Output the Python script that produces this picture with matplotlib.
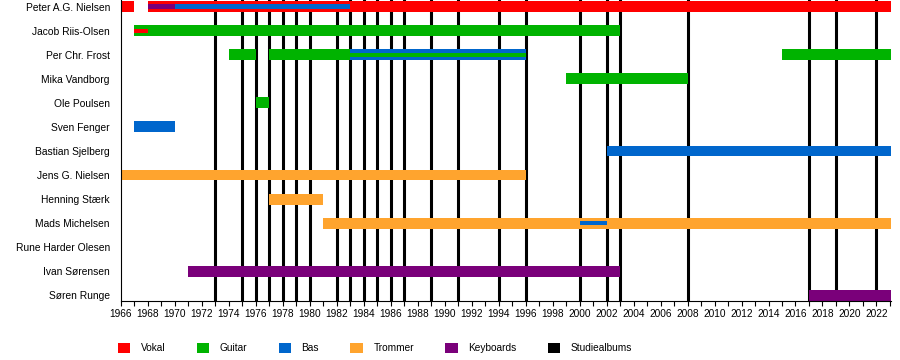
import matplotlib
matplotlib.use("Agg")
import matplotlib.pyplot as plt
from matplotlib.patches import Patch

plt.rcParams['font.family'] = ['Liberation Sans', 'DejaVu Sans']

END = 2023.05
START = 1966

members = ["Peter A.G. Nielsen", "Jacob Riis-Olsen", "Per Chr. Frost", "Mika Vandborg",
           "Ole Poulsen", "Sven Fenger", "Bastian Sjelberg", "Jens G. Nielsen",
           "Henning Stærk", "Mads Michelsen", "Rune Harder Olesen", "Ivan Sørensen",
           "Søren Runge"]

roles = ["Vokal", "Guitar", "Bas", "Trommer", "Keyboards"]
role_colors = {"Vokal": "#FF0000", "Guitar": "#00B300", "Bas": "#0066CC",
               "Trommer": "#FFA42E", "Keyboards": "#7A007A"}
album_label = "Studiealbums"

# main bars: (member, start, end, role)
main_spans = [
    ("Peter A.G. Nielsen", 1966, 1967, "Vokal"),
    ("Peter A.G. Nielsen", 1968, END, "Vokal"),
    ("Jacob Riis-Olsen", 1967, 2003, "Guitar"),
    ("Per Chr. Frost", 1974, 1976, "Guitar"),
    ("Per Chr. Frost", 1977, 1983, "Guitar"),
    ("Per Chr. Frost", 1983, 1996, "Bas"),
    ("Per Chr. Frost", 2015, END, "Guitar"),
    ("Mika Vandborg", 1999, 2008, "Guitar"),
    ("Ole Poulsen", 1976, 1977, "Guitar"),
    ("Sven Fenger", 1967, 1970, "Bas"),
    ("Bastian Sjelberg", 2002, END, "Bas"),
    ("Jens G. Nielsen", 1966, 1996, "Trommer"),
    ("Henning Stærk", 1977, 1981, "Trommer"),
    ("Mads Michelsen", 1981, END, "Trommer"),
    ("Ivan Sørensen", 1971, 2003, "Keyboards"),
    ("Søren Runge", 2017, END, "Keyboards"),
]

# secondary (thin) bars
thin_spans = [
    ("Peter A.G. Nielsen", 1968, 1970, "Keyboards"),
    ("Peter A.G. Nielsen", 1970, 1983, "Bas"),
    ("Jacob Riis-Olsen", 1967, 1968, "Vokal"),
    ("Per Chr. Frost", 1983, 1996, "Guitar"),
    ("Mads Michelsen", 2000, 2002, "Bas"),
]

album_years = [1973, 1975, 1976, 1977, 1978, 1979, 1980, 1982, 1983, 1984, 1985,
               1986, 1987, 1989, 1991, 1994, 1996, 2000, 2002, 2003, 2008, 2017,
               2019, 2022]

year_ticks = list(range(1966, 2023, 2))
minor_ticks = list(range(1966, 2024))

W, H = 900, 360
fig = plt.figure(figsize=(W / 100, H / 100), dpi=100)
left_px, right_px = 121, 890.6
top_px, bottom_px = 0, 301
ax = fig.add_axes([left_px / W, 1 - bottom_px / H, (right_px - left_px) / W,
                   (bottom_px - top_px) / H])

idx = {m: i for i, m in enumerate(members)}

for y in album_years:
    ax.axvline(y, color="black", lw=2.2, zorder=1)

for m, s, e, r in main_spans:
    ax.barh(idx[m], e - s, left=s, height=0.45, color=role_colors[r], zorder=2,
            linewidth=0)
for m, s, e, r in thin_spans:
    ax.barh(idx[m], e - s, left=s, height=0.17, color=role_colors[r], zorder=3,
            linewidth=0)

ax.set_xlim(START, END)
ax.set_ylim(12.23, -0.27)
ax.set_yticks(range(len(members)))
ax.set_yticklabels(members, fontsize=7.4)
ax.tick_params(axis="y", length=0, pad=8)
ax.set_xticks(year_ticks)
ax.set_xticklabels([str(y) for y in year_ticks], fontsize=7.3)
ax.set_xticks(minor_ticks, minor=True)
ax.tick_params(axis="x", which="both", length=3.6, width=0.8, direction="out", pad=2.5)
for sp in ["top", "right"]:
    ax.spines[sp].set_visible(False)
for sp in ["left", "bottom"]:
    ax.spines[sp].set_linewidth(0.8)

handles = [Patch(facecolor=role_colors[r], edgecolor="none", label=r) for r in roles]
handles.append(Patch(facecolor="black", edgecolor="none", label=album_label))
fig.legend(handles=handles, loc="center left", bbox_to_anchor=(118 / W, 1 - 348 / H),
           ncol=6, frameon=False, fontsize=7.3, handlelength=1.2, handleheight=1.2,
           handletextpad=1.05, columnspacing=3.1, borderpad=0, borderaxespad=0)

fig.savefig("out.png", dpi=100)
